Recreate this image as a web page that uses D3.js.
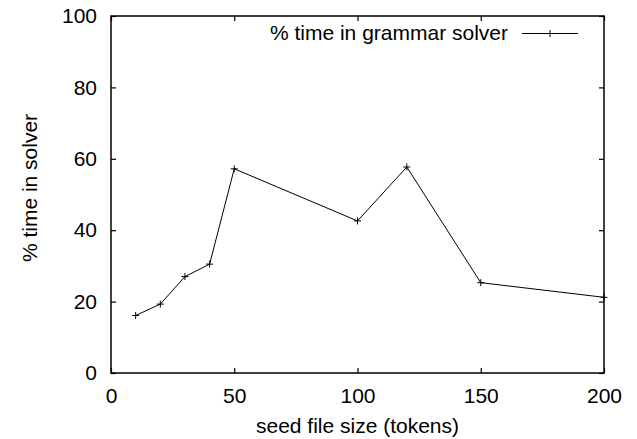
<!DOCTYPE html>
<html>
<head>
<meta charset="utf-8">
<script src="https://cdn.jsdelivr.net/npm/d3@7"></script>
<style>
  body { margin: 0; background: #fff; }
  text { font-family: "Liberation Sans", Arial, Helvetica, sans-serif; fill: #000; }
</style>
</head>
<body>
<div id="chart"></div>
<script>
// data
let seedSizes = [10, 20, 30, 40, 50, 100, 120, 150, 200];
let solverPct = [16.1, 19.3, 27.0, 30.5, 57.2, 42.6, 57.7, 25.3, 21.2];
let xTicks = [0, 50, 100, 150, 200];
let yTicks = [0, 20, 40, 60, 80, 100];
let seriesName = "% time in grammar solver";

let svgWidth = 637;
let svgHeight = 439;

let margin = { top: 16, right: 33, bottom: 66, left: 111 };
let width = svgWidth - margin.left - margin.right;
let height = svgHeight - margin.top - margin.bottom;

let svg = d3.select("#chart")
  .append("svg")
  .attr("width", svgWidth)
  .attr("height", svgHeight);

let chartGroup = svg.append("g")
  .attr("transform", `translate(${margin.left}, ${margin.top})`);

let xScale = d3.scaleLinear().domain([0, 200]).range([0, width]);
let yScale = d3.scaleLinear().domain([0, 100]).range([height, 0]);

// bottom / left axes with inward ticks and labels
chartGroup.append("g")
  .attr("transform", `translate(0, ${height})`)
  .call(d3.axisBottom(xScale).tickValues(xTicks).tickSizeInner(-5).tickSizeOuter(0).tickPadding(15))
  .call(g => g.select(".domain").remove())
  .call(g => g.selectAll("text").style("font-size", "21px").attr("font-family", null));

chartGroup.append("g")
  .call(d3.axisLeft(yScale).tickValues(yTicks).tickSizeInner(-5).tickSizeOuter(0).tickPadding(14))
  .call(g => g.select(".domain").remove())
  .call(g => g.selectAll("text").style("font-size", "21px").attr("font-family", null));

// mirrored ticks on top and right
chartGroup.append("g")
  .call(d3.axisTop(xScale).tickValues(xTicks).tickSizeInner(-5).tickSizeOuter(0).tickFormat(""))
  .call(g => g.select(".domain").remove());

chartGroup.append("g")
  .attr("transform", `translate(${width}, 0)`)
  .call(d3.axisRight(yScale).tickValues(yTicks).tickSizeInner(-5).tickSizeOuter(0).tickFormat(""))
  .call(g => g.select(".domain").remove());

chartGroup.selectAll(".tick line").attr("stroke", "#000").attr("stroke-width", 1.2);

// frame
chartGroup.append("rect")
  .attr("x", 0)
  .attr("y", 0)
  .attr("width", width)
  .attr("height", height)
  .attr("fill", "none")
  .attr("stroke", "#000")
  .attr("stroke-width", 1.5);

let points = seedSizes.map((s, i) => ({ x: s, y: solverPct[i] }));

let line = d3.line()
  .x(d => xScale(d.x))
  .y(d => yScale(d.y));

chartGroup.append("path")
  .datum(points)
  .attr("d", line)
  .attr("fill", "none")
  .attr("stroke", "#000")
  .attr("stroke-width", 1);

// plus markers
let plus = d3.symbol().type(d3.symbolCross);
function plusPath(cx, cy, r) {
  return `M${cx - r},${cy}H${cx + r}M${cx},${cy - r}V${cy + r}`;
}

chartGroup.selectAll(".pt")
  .data(points)
  .join("path")
  .attr("class", "pt")
  .attr("d", d => plusPath(xScale(d.x), yScale(d.y), 3.5))
  .attr("stroke", "#000")
  .attr("stroke-width", 1);

// legend
let legend = chartGroup.append("g");
legend.append("text")
  .attr("x", 397)
  .attr("y", 24)
  .attr("text-anchor", "end")
  .style("font-size", "21px")
  .text(seriesName);
legend.append("line")
  .attr("x1", 411)
  .attr("x2", 467)
  .attr("y1", 17.5)
  .attr("y2", 17.5)
  .attr("stroke", "#000")
  .attr("stroke-width", 1);
legend.append("path")
  .attr("d", plusPath(439, 17.5, 3.5))
  .attr("stroke", "#000")
  .attr("stroke-width", 1);

// axis titles
chartGroup.append("text")
  .attr("x", width / 2)
  .attr("y", height + 60)
  .attr("text-anchor", "middle")
  .style("font-size", "21px")
  .text("seed file size (tokens)");

svg.append("text")
  .attr("transform", "rotate(-90)")
  .attr("x", -188)
  .attr("y", 37)
  .attr("text-anchor", "middle")
  .style("font-size", "21px")
  .text("% time in solver");
</script>
</body>
</html>
